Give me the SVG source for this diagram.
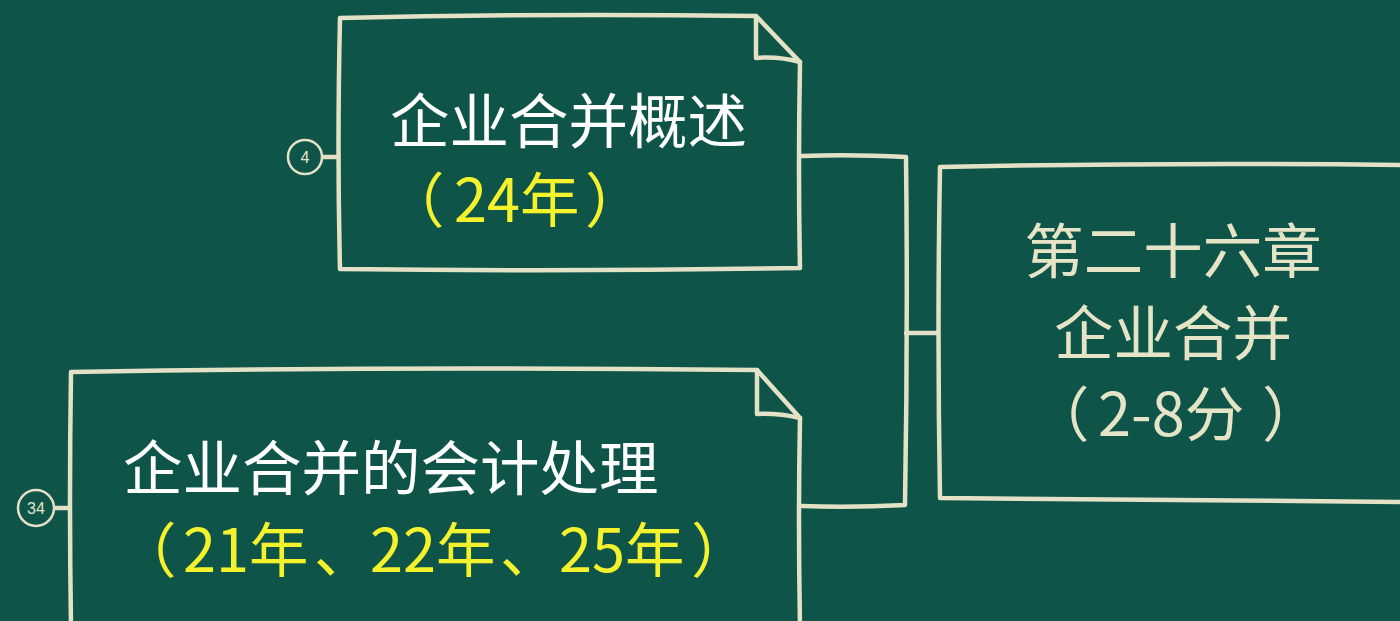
<svg xmlns="http://www.w3.org/2000/svg" width="1400" height="621" viewBox="0 0 1400 621">
<style>
.ln{fill:none;stroke:#e3e2c6;stroke-width:4.5;stroke-linecap:round;stroke-linejoin:round}
.box{fill:#0e5449;stroke:#e3e2c6;stroke-width:4.5;stroke-linejoin:round}
.t{font-family:"Noto Sans CJK SC","Noto Sans",sans-serif;font-size:59.5px}
.w{fill:#ffffff}
.y{fill:#f4f22c}
.c{fill:#e6e4c6}
.num{font-family:"Liberation Sans",Arial,sans-serif;font-size:16px;fill:#e6e4c6;text-anchor:middle}
.circ{fill:#0e5449;stroke:#e3e2c6;stroke-width:2.5}
</style>
<rect width="1400" height="621" fill="#0e5449"/>
<g id="connectors">
<path class="ln" d="M802,156 Q850,154 906,157 Q908,330 905,505 Q850,508 802,506"/>
<path class="ln" d="M906,333 L940,333"/>
<path class="ln" d="M322,157 L340,157"/>
<path class="ln" d="M54,508 L72,508"/>
</g>
<g id="node-overview">
<path class="box" d="M340,18 Q540,13 756,16 L800,62 Q798,170 800,268 Q570,272 340,269 Q337,150 340,18 Z"/>
<path class="ln" d="M756,16 L756,58 Q778,56 800,62"/>
<text class="t w" x="390" y="143">企业合并概述</text>
<text class="t y" y="222"><tspan x="385">（</tspan><tspan x="454">24年</tspan><tspan x="585">）</tspan></text>
</g>
<g id="node-accounting">
<path class="box" d="M71,372 Q400,366 757,370 L800,418 Q798,520 800,625 L71,625 Q69,500 71,372 Z"/>
<path class="ln" d="M757,370 L757,414 Q778,413 800,418"/>
<text class="t w" x="123" y="490">企业合并的会计处理</text>
<text class="t y" y="572"><tspan x="117">（</tspan><tspan x="183">21年</tspan><tspan x="314">、</tspan><tspan x="370">22年</tspan><tspan x="500">、</tspan><tspan x="559">25年</tspan><tspan x="691">）</tspan></text>
</g>
<g id="node-root">
<path class="box" d="M940,167 Q1170,162 1405,165 L1405,502 Q1170,500 940,498 Q937,330 940,167 Z"/>
<text class="t c" x="1173" y="273" text-anchor="middle">第二十六章</text>
<text class="t c" x="1173" y="355" text-anchor="middle">企业合并</text>
<text class="t c" y="436"><tspan x="1030">（</tspan><tspan x="1098">2-8分</tspan><tspan x="1262">）</tspan></text>
</g>
<g id="badge-4">
<circle class="circ" cx="305" cy="157" r="17"/>
<text class="num" x="305" y="163">4</text>
</g>
<g id="badge-34">
<circle class="circ" cx="36" cy="508" r="18"/>
<text class="num" x="36" y="514">34</text>
</g>
</svg>
